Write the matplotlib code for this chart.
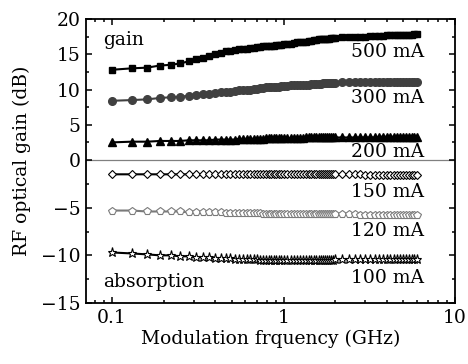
import numpy as np
import matplotlib
matplotlib.use("Agg")
import matplotlib.pyplot as plt
from matplotlib.ticker import MultipleLocator, FixedLocator, LogLocator, NullFormatter

# modulation frequency grid (GHz)
freq = [0.10, 0.13, 0.16, 0.19, 0.22, 0.25, 0.28, 0.31, 0.34, 0.37,
        0.40, 0.43, 0.46, 0.49, 0.52, 0.55, 0.58, 0.61, 0.64, 0.67,
        0.70, 0.73, 0.76, 0.79, 0.82, 0.85, 0.88, 0.91, 0.94, 0.97,
        1.00, 1.05, 1.10, 1.15, 1.20, 1.25, 1.30, 1.35, 1.40, 1.45,
        1.50, 1.55, 1.60, 1.65, 1.70, 1.75, 1.80, 1.85, 1.90, 1.95,
        2.00, 2.20, 2.40, 2.60, 2.80, 3.00, 3.20, 3.40, 3.60, 3.80,
        4.00, 4.20, 4.40, 4.60, 4.80, 5.00, 5.20, 5.40, 5.60, 5.80,
        6.00]

# RF optical gain (dB) for each bias current
gain_500 = [12.8, 13.0, 13.1, 13.4, 13.5, 13.7, 14.0, 14.3, 14.5, 14.8,
            15.0, 15.2, 15.4, 15.5, 15.6, 15.7, 15.8, 15.8, 15.9, 15.9,
            16.0, 16.0, 16.1, 16.1, 16.2, 16.2, 16.2, 16.3, 16.3, 16.3,
            16.4, 16.5, 16.5, 16.6, 16.7, 16.7, 16.8, 16.8, 16.9, 16.9,
            17.0, 17.0, 17.1, 17.1, 17.1, 17.2, 17.2, 17.2, 17.3, 17.3,
            17.3, 17.4, 17.4, 17.5, 17.5, 17.5, 17.6, 17.6, 17.6, 17.6,
            17.7, 17.7, 17.7, 17.7, 17.8, 17.8, 17.8, 17.8, 17.8, 17.9,
            17.9]
gain_300 = [8.4, 8.5, 8.6, 8.8, 8.9, 9.0, 9.1, 9.2, 9.3, 9.4,
            9.5, 9.6, 9.7, 9.7, 9.8, 9.9, 9.9, 10.0, 10.0, 10.1,
            10.1, 10.2, 10.2, 10.3, 10.3, 10.3, 10.4, 10.4, 10.4, 10.5,
            10.5, 10.5, 10.6, 10.6, 10.6, 10.7, 10.7, 10.7, 10.7, 10.8,
            10.8, 10.8, 10.8, 10.8, 10.9, 10.9, 10.9, 10.9, 10.9, 10.9,
            10.9, 11.0, 11.0, 11.0, 11.0, 11.0, 11.0, 11.0, 11.0, 11.0,
            11.0, 11.0, 11.0, 11.0, 11.0, 11.0, 11.0, 11.0, 11.0, 11.0,
            11.0]
gain_200 = [2.5, 2.6, 2.6, 2.7, 2.7, 2.7, 2.8, 2.8, 2.8, 2.8,
            2.9, 2.9, 2.9, 2.9, 2.9, 3.0, 3.0, 3.0, 3.0, 3.0,
            3.0, 3.0, 3.0, 3.1, 3.1, 3.1, 3.1, 3.1, 3.1, 3.1,
            3.1, 3.1, 3.1, 3.1, 3.1, 3.1, 3.1, 3.2, 3.2, 3.2,
            3.2, 3.2, 3.2, 3.2, 3.2, 3.2, 3.2, 3.2, 3.2, 3.2,
            3.2, 3.2, 3.2, 3.2, 3.2, 3.2, 3.2, 3.2, 3.3, 3.3,
            3.3, 3.3, 3.3, 3.3, 3.3, 3.3, 3.3, 3.3, 3.3, 3.3,
            3.3]
gain_150 = [-1.5, -1.5, -1.5, -1.5, -1.5, -1.5, -1.5, -1.5, -1.5, -1.5,
            -1.5, -1.5, -1.5, -1.5, -1.5, -1.5, -1.5, -1.5, -1.5, -1.5,
            -1.5, -1.5, -1.5, -1.5, -1.5, -1.5, -1.5, -1.5, -1.5, -1.5,
            -1.5, -1.5, -1.5, -1.5, -1.5, -1.5, -1.5, -1.5, -1.5, -1.5,
            -1.5, -1.5, -1.5, -1.5, -1.5, -1.5, -1.5, -1.5, -1.5, -1.5,
            -1.5, -1.5, -1.5, -1.5, -1.5, -1.6, -1.6, -1.6, -1.6, -1.6,
            -1.6, -1.6, -1.6, -1.6, -1.6, -1.6, -1.6, -1.6, -1.6, -1.6,
            -1.6]
gain_120 = [-5.3, -5.3, -5.4, -5.4, -5.4, -5.4, -5.5, -5.5, -5.5, -5.5,
            -5.5, -5.5, -5.6, -5.6, -5.6, -5.6, -5.6, -5.6, -5.6, -5.6,
            -5.6, -5.6, -5.7, -5.7, -5.7, -5.7, -5.7, -5.7, -5.7, -5.7,
            -5.7, -5.7, -5.7, -5.7, -5.7, -5.7, -5.7, -5.7, -5.7, -5.7,
            -5.7, -5.7, -5.7, -5.7, -5.7, -5.7, -5.7, -5.7, -5.7, -5.7,
            -5.7, -5.7, -5.7, -5.7, -5.8, -5.8, -5.8, -5.8, -5.8, -5.8,
            -5.8, -5.8, -5.8, -5.8, -5.8, -5.8, -5.8, -5.8, -5.8, -5.8,
            -5.8]
gain_100 = [-9.7, -9.8, -9.9, -10.0, -10.0, -10.1, -10.1, -10.2, -10.2, -10.2,
            -10.3, -10.3, -10.3, -10.3, -10.4, -10.4, -10.4, -10.4, -10.4, -10.4,
            -10.4, -10.5, -10.5, -10.5, -10.5, -10.5, -10.5, -10.5, -10.5, -10.5,
            -10.5, -10.5, -10.5, -10.5, -10.5, -10.5, -10.5, -10.5, -10.5, -10.5,
            -10.5, -10.5, -10.5, -10.5, -10.5, -10.5, -10.5, -10.5, -10.5, -10.5,
            -10.4, -10.4, -10.4, -10.4, -10.4, -10.4, -10.4, -10.4, -10.4, -10.4,
            -10.4, -10.4, -10.4, -10.4, -10.4, -10.4, -10.4, -10.4, -10.4, -10.4,
            -10.4]

series_labels = ["500 mA", "300 mA", "200 mA", "150 mA", "120 mA", "100 mA"]

plt.rcParams["font.family"] = ["DejaVu Serif"]
plt.rcParams["font.size"] = 13.5

# negative side of the axis is stretched relative to the positive side
K = 1.352


def fwd(v):
    v = np.asarray(v, dtype=float)
    return np.where(v < 0, v * K, v)


def inv(v):
    v = np.asarray(v, dtype=float)
    return np.where(v < 0, v / K, v)


fig = plt.figure(figsize=(4.68, 3.64), dpi=100)
ax = fig.add_axes([86 / 468, 61 / 364, 369 / 468, 284 / 364])

styles = [
    dict(marker="s", color="black", mfc="black", ms=4.8),
    dict(marker="o", color="#404040", mfc="#404040", ms=5.5),
    dict(marker="^", color="black", mfc="black", ms=5.5),
    dict(marker="D", color="black", mfc="white", ms=4.5, mew=0.8),
    dict(marker="p", color="#7a7a7a", mfc="white", ms=5.5, mew=0.8),
    dict(marker="*", color="black", mfc="white", ms=6.5, mew=0.8),
]
data = [gain_500, gain_300, gain_200, gain_150, gain_120, gain_100]
for y, st in zip(data, styles):
    ax.plot(freq, y, "-", lw=1.5, **st)

ax.axhline(0, color="#808080", lw=0.9, zorder=0)

ax.set_xscale("log")
ax.set_yscale("function", functions=(fwd, inv))
ax.set_xlim(0.0705, 10)
ax.set_ylim(-15, 20)

ax.xaxis.set_major_locator(FixedLocator([0.1, 1, 10]))
ax.set_xticklabels(["0.1", "1", "10"])
ax.xaxis.set_minor_locator(LogLocator(base=10, subs=np.arange(2, 10)))
ax.xaxis.set_minor_formatter(NullFormatter())
ax.yaxis.set_major_locator(FixedLocator([-15, -10, -5, 0, 5, 10, 15, 20]))
ax.yaxis.set_minor_locator(MultipleLocator(2.5))
ax.yaxis.set_major_formatter(plt.FuncFormatter(lambda v, p: f"{v:g}".replace("-", "\u2212")))

ax.tick_params(which="both", direction="in", top=True, right=True, width=1.1)
ax.tick_params(which="major", length=4, pad=4)
ax.tick_params(which="minor", length=2.5)
for s in ax.spines.values():
    s.set_linewidth(1.3)

ax.set_xlabel("Modulation frquency (GHz)", labelpad=2)
ax.set_ylabel("RF optical gain (dB)", labelpad=7)

# annotations
label_y = [15.3, 8.8, 1.1, -3.35, -7.45, -12.4]
for lab, ly in zip(series_labels, label_y):
    ax.text(6.6, ly, lab, ha="right", va="center")
ax.text(0.0885, 17.0, "gain", ha="left", va="center")
ax.text(0.0885, -12.8, "absorption", ha="left", va="center")

fig.savefig("out.png", dpi=100)
